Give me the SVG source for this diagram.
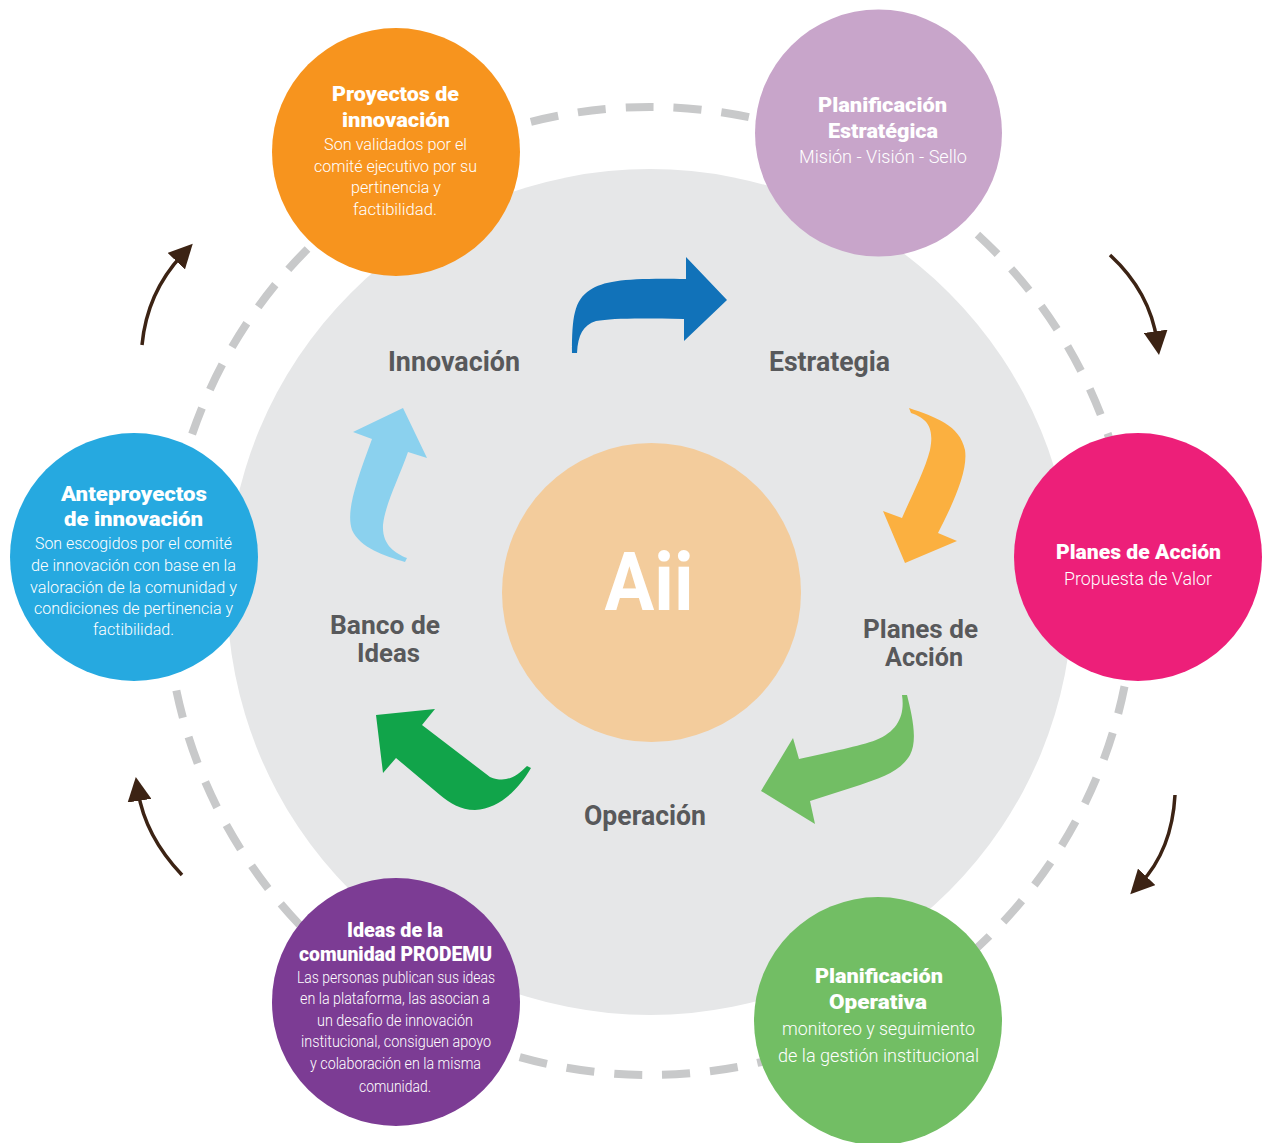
<svg xmlns="http://www.w3.org/2000/svg" width="1263" height="1143" viewBox="0 0 1263 1143">
<style>
.ttl{font-family:Roboto,"Open Sans","Liberation Sans",sans-serif;font-weight:900;font-size:20px;fill:#fff;text-anchor:middle}
.txt{font-family:Roboto,"Liberation Sans",sans-serif;font-weight:300;font-size:17px;fill:#fff;text-anchor:middle}
.big{font-size:19px}
.lbl{font-family:Roboto,"Liberation Sans",sans-serif;font-weight:700;font-size:28px;fill:#58595B;text-anchor:middle}
.lbl2{font-size:26px}
.brown{fill:none;stroke:#3C2314;stroke-width:3.5;marker-end:url(#ah)}
</style>
<defs>
<marker id="ah" markerUnits="userSpaceOnUse" markerWidth="24" markerHeight="24" viewBox="0 0 22 22" refX="9" refY="11" orient="auto">
<path d="M0,0 L22,11 L0,22 Z" fill="#3C2314"/>
</marker>
</defs>
<rect width="1263" height="1143" fill="#fff"/>
<g id="background">
<circle cx="650" cy="591" r="484" fill="none" stroke="#C8C9CA" stroke-width="8" stroke-dasharray="28 20"/>
<circle cx="650" cy="592" r="423" fill="#E6E7E8"/>
</g>
<g id="center">
<circle cx="651.5" cy="592.5" r="149.5" fill="#F3CC9C"/>
<text x="649" y="610" font-family="Roboto,'Liberation Sans',sans-serif" font-weight="700" font-size="82" fill="#fff" text-anchor="middle" textLength="89" lengthAdjust="spacingAndGlyphs">Aii</text>
</g>
<g id="connectors">
<path d="M572,353 C572,318 574,300 590,290 C605,280 630,278 686,279 L686,257 L727,300 L684,341 L684,319 C640,318 612,318 596,321 C583,325 578,335 577,353 Z" fill="#1172B9"/>
<path d="M909,408 C935,417 960,425 965,450 C968,470 955,500 938,533 L957,541 L905,563 L883,511 L902,518 C912,495 925,470 930,450 C935,425 925,418 911,413 Z" fill="#FBB040"/>
<path d="M902,695 L907,695 C912,715 918,740 910,755 C900,772 880,778 860,785 L810,801 L815,824 L761,791 L793,738 L799,759 C830,752 860,746 876,740 C898,731 905,715 902,695 Z" fill="#72BE64"/>
<path d="M376,715 L435,709 L422,725 L490,777 C505,783 515,778 527,766 L531,768 C518,790 500,808 475,810 C460,810 450,803 440,795 L396,758 L383,773 Z" fill="#11A44A"/>
<path d="M403,408 L427,458 L408,452 C398,480 385,505 383,525 C382,545 395,553 407,558 L405,562 C385,556 360,548 352,530 C346,512 355,485 372,439 L353,432 Z" fill="#8BD1EE"/>
<path class="brown" d="M142,345 Q147,292 183,254"/>
<path class="brown" d="M1110,255 Q1150,292 1157,341"/>
<path class="brown" d="M1175,795 Q1172,850 1140,884"/>
<path class="brown" d="M182,875 Q145,836 138,791"/>
</g>
<g id="labels">
<text class="lbl" x="454" y="371" textLength="132" lengthAdjust="spacingAndGlyphs">Innovación</text>
<text class="lbl" x="829.5" y="371" textLength="121" lengthAdjust="spacingAndGlyphs">Estrategia</text>
<text class="lbl lbl2" x="920.5" y="638" textLength="115" lengthAdjust="spacingAndGlyphs">Planes de</text>
<text class="lbl lbl2" x="924" y="666" textLength="78" lengthAdjust="spacingAndGlyphs">Acción</text>
<text class="lbl lbl2" x="385" y="634" textLength="110" lengthAdjust="spacingAndGlyphs">Banco de</text>
<text class="lbl lbl2" x="388.5" y="662" textLength="63" lengthAdjust="spacingAndGlyphs">Ideas</text>
<text class="lbl" x="645" y="825" textLength="122" lengthAdjust="spacingAndGlyphs">Operación</text>
</g>
<g id="node-proyectos">
<circle cx="396" cy="152" r="124" fill="#F7941E"/>
<text class="ttl" x="395.5" y="101" textLength="127" lengthAdjust="spacingAndGlyphs">Proyectos de</text>
<text class="ttl" x="396" y="127" textLength="108" lengthAdjust="spacingAndGlyphs">innovación</text>
<text class="txt" x="395.5" y="150" textLength="143" lengthAdjust="spacingAndGlyphs">Son validados por el</text>
<text class="txt" x="395.5" y="172" textLength="163" lengthAdjust="spacingAndGlyphs">comité ejecutivo por su</text>
<text class="txt" x="396" y="193" textLength="90" lengthAdjust="spacingAndGlyphs">pertinencia y</text>
<text class="txt" x="395" y="215" textLength="84" lengthAdjust="spacingAndGlyphs">factibilidad.</text>
</g>
<g id="node-planificacion-estrategica">
<circle cx="878.5" cy="133" r="123.5" fill="#C8A5CA"/>
<text class="ttl" x="882.5" y="112" textLength="129" lengthAdjust="spacingAndGlyphs">Planificación</text>
<text class="ttl" x="883" y="138" textLength="110" lengthAdjust="spacingAndGlyphs">Estratégica</text>
<text class="txt big" x="883" y="163" textLength="168" lengthAdjust="spacingAndGlyphs">Misión - Visión - Sello</text>
</g>
<g id="node-planes-accion">
<circle cx="1138" cy="557" r="124" fill="#ED1F79"/>
<text class="ttl" x="1138.5" y="559" textLength="165" lengthAdjust="spacingAndGlyphs">Planes de Acción</text>
<text class="txt big" x="1138" y="585" textLength="148" lengthAdjust="spacingAndGlyphs">Propuesta de Valor</text>
</g>
<g id="node-planificacion-operativa">
<circle cx="878" cy="1021" r="124" fill="#72BE64"/>
<text class="ttl" x="879" y="983" textLength="128" lengthAdjust="spacingAndGlyphs">Planificación</text>
<text class="ttl" x="878" y="1009" textLength="98" lengthAdjust="spacingAndGlyphs">Operativa</text>
<text class="txt big" x="878.5" y="1035" textLength="193" lengthAdjust="spacingAndGlyphs">monitoreo y seguimiento</text>
<text class="txt big" x="878.5" y="1062" textLength="201" lengthAdjust="spacingAndGlyphs">de la gestión institucional</text>
</g>
<g id="node-ideas-comunidad">
<circle cx="396" cy="1002" r="124" fill="#7C3C94"/>
<text class="ttl" x="395" y="937" textLength="96" lengthAdjust="spacingAndGlyphs">Ideas de la</text>
<text class="ttl" x="395.5" y="961" textLength="193" lengthAdjust="spacingAndGlyphs">comunidad PRODEMU</text>
<text class="txt" x="396" y="983" font-size="16" textLength="198" lengthAdjust="spacingAndGlyphs">Las personas publican sus ideas</text>
<text class="txt" x="395" y="1004" font-size="16" textLength="190" lengthAdjust="spacingAndGlyphs">en la plataforma, las asocian a</text>
<text class="txt" x="395" y="1026" font-size="16" textLength="156" lengthAdjust="spacingAndGlyphs">un desafio de innovación</text>
<text class="txt" x="396" y="1047" font-size="16" textLength="190" lengthAdjust="spacingAndGlyphs">institucional, consiguen apoyo</text>
<text class="txt" x="395.5" y="1069" font-size="16" textLength="171" lengthAdjust="spacingAndGlyphs">y colaboración en la misma</text>
<text class="txt" x="395" y="1092" font-size="16" textLength="72" lengthAdjust="spacingAndGlyphs">comunidad.</text>
</g>
<g id="node-anteproyectos">
<circle cx="134" cy="557" r="124" fill="#26A9E0"/>
<text class="ttl" x="134" y="501" textLength="146" lengthAdjust="spacingAndGlyphs">Anteproyectos</text>
<text class="ttl" x="133.5" y="526" textLength="139" lengthAdjust="spacingAndGlyphs">de innovación</text>
<text class="txt" x="133.5" y="549" textLength="197" lengthAdjust="spacingAndGlyphs">Son escogidos por el comité</text>
<text class="txt" x="133.5" y="571" textLength="205" lengthAdjust="spacingAndGlyphs">de innovación con base en la</text>
<text class="txt" x="133.5" y="593" textLength="207" lengthAdjust="spacingAndGlyphs">valoración de la comunidad y</text>
<text class="txt" x="133.5" y="614" textLength="199" lengthAdjust="spacingAndGlyphs">condiciones de pertinencia y</text>
<text class="txt" x="133.5" y="635" textLength="81" lengthAdjust="spacingAndGlyphs">factibilidad.</text>
</g>
</svg>
